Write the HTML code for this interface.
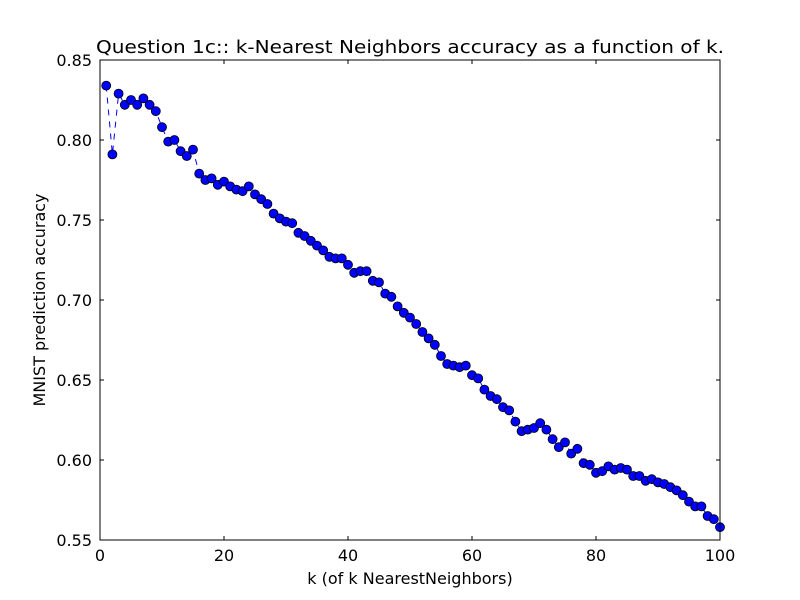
<!DOCTYPE html>
<html><head><meta charset="utf-8"><style>body{margin:0;background:#fff}svg{display:block;font-family:"DejaVu Sans",sans-serif}</style></head>
<body>
<svg id="c" width="800" height="600">
<rect width="800" height="600" fill="#fff"/>
<text x="410" y="53" font-size="18" text-anchor="middle" textLength="628" lengthAdjust="spacingAndGlyphs">Question 1c:: k-Nearest Neighbors accuracy as a function of k.</text>
<text x="410" y="584" font-size="16" text-anchor="middle">k (of k NearestNeighbors)</text>
<text transform="translate(45,300) rotate(-90)" font-size="16" text-anchor="middle">MNIST prediction accuracy</text>
<g id="ticks"></g><g id="plot"></g>
<rect x="100" y="60" width="620" height="480" fill="none" stroke="#000" stroke-width="1"/>
</svg>
<script>
const xTicks=[0,20,40,60,80,100];
const yTicks=[0.55,0.60,0.65,0.70,0.75,0.80,0.85];
const kValues=[];for(let i=1;i<=100;i++)kValues.push(i);
const accuracy=[.834,.791,.829,.822,.825,.822,.826,.822,.818,.808,.799,.800,.793,.790,.794,.779,.775,.776,.772,.774,.771,.769,.768,.771,.766,.763,.760,.754,.751,.749,.748,.742,.740,.737,.734,.731,.727,.726,.726,.722,.717,.718,.718,.712,.711,.704,.702,.696,.692,.689,.685,.680,.676,.672,.665,.660,.659,.658,.659,.653,.651,.644,.640,.638,.633,.631,.624,.618,.619,.620,.623,.619,.613,.608,.611,.604,.607,.598,.597,.592,.593,.596,.594,.595,.594,.590,.590,.587,.588,.586,.585,.583,.581,.578,.574,.571,.571,.565,.563,.558];
const NS="http://www.w3.org/2000/svg";
const X=v=>100+v/100*620, Y=v=>540-(v-0.55)/0.30*480;
const T=document.getElementById('ticks'),P=document.getElementById('plot');
function mk(t,a,p){const e=document.createElementNS(NS,t);for(const k in a)e.setAttribute(k,a[k]);p.appendChild(e);return e;}
xTicks.forEach(v=>{const x=X(v);
let l=mk('path',{d:`M${x},540v-4M${x},60v4`,stroke:'#000'},T);


let t=mk('text',{x:x,y:561,'font-size':16,'text-anchor':'middle'},T);t.textContent=v;

});
yTicks.forEach(v=>{const y=Y(v);
let l=mk('path',{d:`M100,${y}h4M720,${y}h-4`,stroke:'#000'},T);


let t=mk('text',{x:92,y:y+6,'font-size':16,'text-anchor':'end'},T);t.textContent=v.toFixed(2);

});
const line=mk('polyline',{points:kValues.map((k,i)=>X(k)+','+Y(accuracy[i])).join(' '),fill:'none',stroke:'#0000ff','stroke-width':1,'stroke-dasharray':'6,6'},P);


kValues.forEach((k,i)=>{const c=mk('circle',{cx:X(k),cy:Y(accuracy[i]),r:4.5,fill:'#0000ff',stroke:'#000','stroke-width':0.8},P);

});
</script>
</body></html>
